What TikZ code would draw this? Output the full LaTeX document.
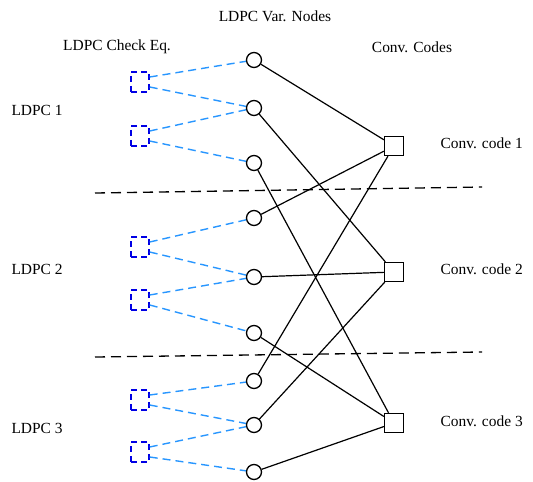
\documentclass[tikz,border=0pt]{standalone}
\usepackage{fontspec}
\setmainfont{Liberation Serif}
\begin{document}
\begin{tikzpicture}[x=1bp,y=-1bp,
  every node/.style={font=\fontsize{15.5}{18}\selectfont},
  varnode/.style={circle,draw,line width=1.3bp,minimum size=15bp,inner sep=0pt},
  checkbox/.style={rectangle,draw=blue!90!black,line width=1.4bp,dash pattern=on 6bp off 4bp,
    minimum width=18bp,minimum height=20bp,inner sep=0pt},
  convbox/.style={rectangle,draw,line width=1.3bp,minimum size=19bp,inner sep=0pt},
  checklink/.style={draw={rgb,255:red,40;green,150;blue,255},line width=1.4bp,dash pattern=on 8bp off 5bp},
  convlink/.style={draw,line width=1.2bp},
  sep/.style={draw,line width=1.3bp,dash pattern=on 10bp off 6bp}]
\useasboundingbox (0,0) rectangle (533,482);

% headings
\node (hvar) at (275,16) {LDPC Var. Nodes};
\node (hchk) at (117,47) {LDPC Check Eq.};
\node (hconv) at (412,47) {Conv. Codes};

% group labels
\node[anchor=west] (l1) at (8,110) {LDPC 1};
\node[anchor=west] (l2) at (8,269) {LDPC 2};
\node[anchor=west] (l3) at (8,428) {LDPC 3};
\node[anchor=west] (k1) at (437,143) {Conv. code 1};
\node[anchor=west] (k2) at (437,269) {Conv. code 2};
\node[anchor=west] (k3) at (437,421) {Conv. code 3};

% variable nodes
\foreach \i/\y in {1/60,2/108,3/163,4/218,5/277,6/333,7/381,8/425,9/472}
  \node[varnode] (v\i) at (254,\y) {};

% check equations
\foreach \i/\y in {1/82,2/136,3/247,4/300,5/400,6/452}
  \node[checkbox] (b\i) at (140,\y) {};

% convolutional code nodes
\node[convbox] (c1) at (394,146) {};
\node[convbox] (c2) at (394,272) {};
\node[convbox] (c3) at (394,423) {};

% check-to-variable edges
\foreach \b/\u/\w in {1/1/2,2/2/3,3/4/5,4/5/6,5/7/8,6/8/9}{
  \draw[checklink] ([yshift=5bp]b\b.east) -- (v\u);
  \draw[checklink] ([yshift=-5bp]b\b.east) -- (v\w);
}

% variable-to-code edges (interleaved)
\foreach \v/\c in {1/1,2/2,3/3,4/1,5/2,6/3,7/1,8/2,9/3}
  \draw[convlink] (v\v) -- (c\c);

% group separators
\coordinate (s1a) at (95,193);
\coordinate (s1b) at (482,187);
\coordinate (s2a) at (95,357);
\coordinate (s2b) at (482,352);
\draw[sep] (s1a) -- (s1b);
\draw[sep] (s2a) -- (s2b);
\end{tikzpicture}
\end{document}
